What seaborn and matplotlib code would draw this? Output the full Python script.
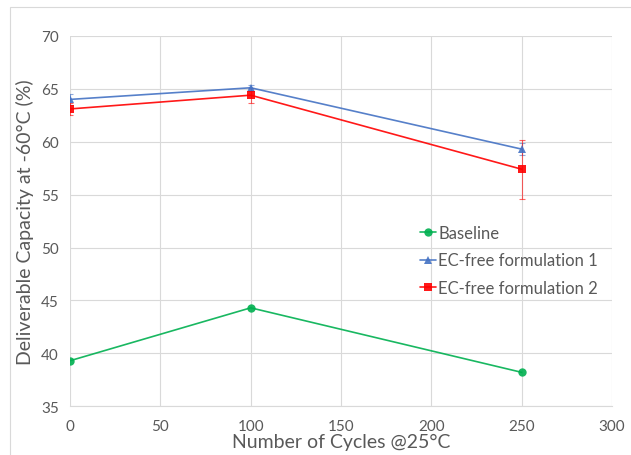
import numpy as np
import pandas as pd
import matplotlib
matplotlib.use("Agg")
import matplotlib.pyplot as plt
import seaborn as sns
from matplotlib.patches import Rectangle

# data
cycles = [0, 100, 250]
series_names = ["Baseline", "EC-free formulation 1", "EC-free formulation 2"]
baseline = [39.3, 44.3, 38.2]
ec_free_1 = [64.0, 65.1, 59.3]
ec_free_2 = [63.1, 64.4, 57.4]
err_1 = [0.5, 0.3, 0.6]
err_2 = [0.6, 0.7, 2.8]

colors = ["#00B050", "#4472C4", "#FF0000"]
markers = ["o", "^", "s"]
text_gray = "#595959"

df = pd.DataFrame({
    "cycles": cycles * 3,
    "capacity": baseline + ec_free_1 + ec_free_2,
    "series": [n for n in series_names for _ in cycles],
})

sns.set_style("white")
plt.rcParams["font.family"] = ["Lato", "DejaVu Sans"]

fig = plt.figure(figsize=(6.31, 4.56), dpi=100)
ax = fig.add_axes([0.111, 0.107, 0.859, 0.812])

# errorbars first so the lines/markers sit on top
for vals, errs, c in [(ec_free_1, err_1, colors[1]), (ec_free_2, err_2, colors[2])]:
    ax.errorbar(cycles, vals, yerr=errs, fmt="none", ecolor=c, elinewidth=0.8,
                capsize=2, capthick=0.8, alpha=0.6, zorder=2)

sns.lineplot(data=df, x="cycles", y="capacity", hue="series", style="series",
             hue_order=series_names, style_order=series_names,
             palette=colors, markers=markers, dashes=False, linewidth=1.2,
             markersize=6, markeredgewidth=0, alpha=0.9, ax=ax, zorder=3)

ax.set_xlim(0, 300)
ax.set_ylim(35, 70)
ax.set_xticks(np.arange(0, 301, 50))
ax.set_yticks(np.arange(35, 71, 5))
ax.grid(True, color="#D9D9D9", linewidth=0.8)
ax.set_axisbelow(True)
for side in ["top", "right", "left"]:
    ax.spines[side].set_visible(False)
ax.spines["bottom"].set_color("#D9D9D9")
ax.tick_params(axis="x", length=0, labelsize=11, labelcolor=text_gray, pad=9)
ax.tick_params(axis="y", length=0, labelsize=11, labelcolor=text_gray, pad=8)

ax.set_xlabel("Number of Cycles @25°C", fontsize=14, color=text_gray, labelpad=0)
ax.set_ylabel("Deliverable Capacity at -60°C (%)", fontsize=14, color=text_gray, labelpad=5)

leg = ax.legend(loc="upper left", bbox_to_anchor=(0.633, 0.508), frameon=False,
                fontsize=12, handlelength=1.0, handletextpad=0.1,
                labelspacing=0.7, borderaxespad=0)
for t in leg.get_texts():
    t.set_color(text_gray)

# chart-area border like the Excel frame
fig.patches.append(Rectangle((10 / 631, -0.05), 1.1, 1 - 8 / 456 + 0.05,
                             transform=fig.transFigure, fill=False,
                             edgecolor="#D9D9D9", linewidth=0.8))

fig.savefig("out.png", dpi=100)
